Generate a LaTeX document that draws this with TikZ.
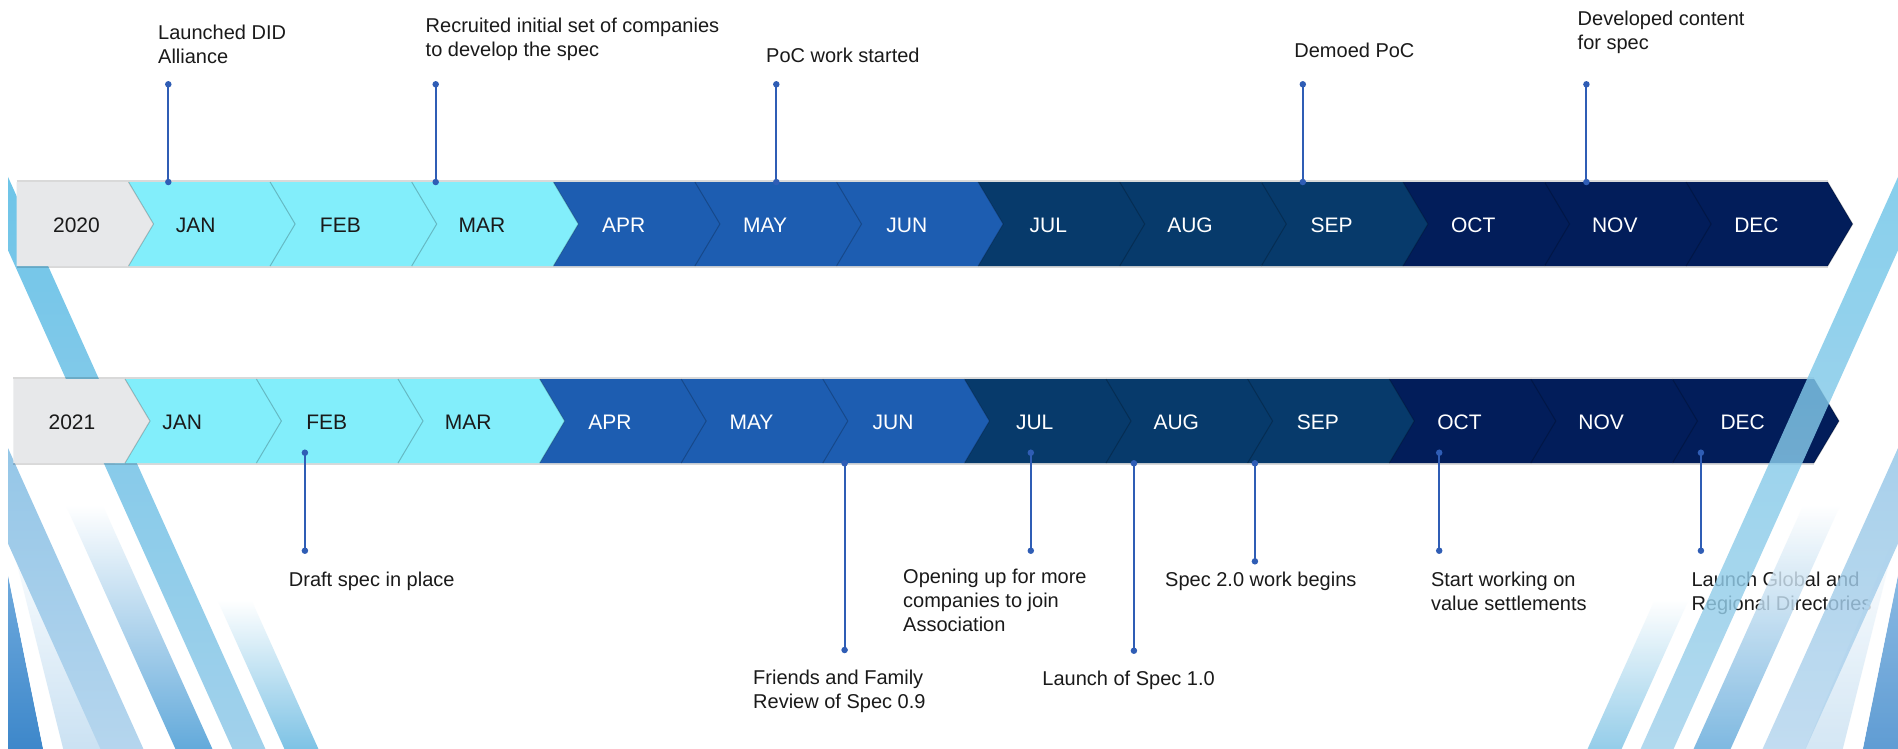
\documentclass[tikz,border=0pt]{standalone}
\usepackage{fontspec}
\setmainfont{Liberation Sans}
\usetikzlibrary{calc}
\definecolor{yearbg}{HTML}{E7E8EA}
\definecolor{qone}{HTML}{82EEFB}
\definecolor{qtwo}{HTML}{1D5DB1}
\definecolor{qthree}{HTML}{073A6B}
\definecolor{qfour}{HTML}{021D5A}
\definecolor{callout}{HTML}{2F5DB5}
\definecolor{txt}{HTML}{1A1A1A}
\definecolor{bandAa}{HTML}{6CC4E8}
\definecolor{bandAb}{HTML}{A2D1EB}
\definecolor{bandF}{HTML}{74BEE3}
\definecolor{bandM}{HTML}{5CA6D9}
\definecolor{bandLa}{HTML}{94C6E7}
\definecolor{bandLb}{HTML}{B6D6EE}
\definecolor{bandDa}{HTML}{6FAADD}
\definecolor{bandDb}{HTML}{3A85C9}
\definecolor{bandW}{HTML}{C8E0F2}
\newcommand\evlines[1]{\vtop{\halign{##\hfil\cr #1\cr}}}
% band: x-left and x-right at y=748, top y, style
\newcommand\decoband[4]{\path[#4] ({#1+5.4},-760) -- ({#2+5.4},-760) -- ({#2-0.45*(748-#3)},-#3) -- ({#1-0.45*(748-#3)},-#3) -- cycle;}
\newcommand\stripedeco{%
  \path[top color=bandDa, bottom color=bandDb] (-20,-575) -- (8,-575) -- (45.4,-760) -- (-20,-760) -- cycle;
  \path[fill=white] (8,-528) -- (8,-575) -- (45.4,-760) -- (66,-760) -- cycle;
  \path[top color=white, bottom color=bandW] (8,-528) -- (66,-760) -- (105.4,-760) -- cycle;
  \decoband{100}{143}{440}{top color=bandLa, bottom color=bandLb}
  \decoband{175}{212}{505}{top color=white, bottom color=bandM}
  \decoband{232}{265}{150}{top color=bandAa, bottom color=bandAb}
  \decoband{284}{318}{600}{top color=white, bottom color=bandF}
}
% chevron: left x, right x, top y, bottom y (image coords), colour
\newcommand\chevseg[5]{%
  \fill[#5] (#1,-#3) -- (#2,-#3) -- ({#2+25},{-(#3+#4)/2}) -- (#2,-#4) -- (#1,-#4) -- cycle;
  \draw[black, opacity=0.22, line width=1pt] (#2,-#3) -- ({#2+25},{-(#3+#4)/2}) -- (#2,-#4);}
\tikzset{
  monthlbl/.style={font=\fontsize{21}{25}\selectfont, anchor=base, inner sep=0pt},
  evtxt/.style={font=\fontsize{20}{24}\selectfont, anchor=base west, inner sep=0pt, text=txt},
  pin/.style={draw=callout, line width=2pt},
  pindot/.style={circle, fill=callout, inner sep=0pt, minimum size=6.5pt},
  barshadow/.style={draw=black, opacity=0.15, line width=1.5pt},
}
\begin{document}
\begin{tikzpicture}[x=1pt,y=1pt]
\useasboundingbox (0,0) rectangle (1898,-748);
\fill[white] (0,0) rectangle (1898,-748);
% left decoration (behind)
\begin{scope}
  \clip (8,-150) rectangle (1000,-760);
  \stripedeco
\end{scope}
% ---------- row 2020 ----------
\draw[barshadow] (16.5,-181) -- (1827.7,-181);
\draw[barshadow] (16.5,-267) -- (1827.7,-267);
\foreach \i/\c in {12/qfour,11/qfour,10/qfour,9/qthree,8/qthree,7/qthree,6/qtwo,5/qtwo,4/qtwo,3/qone,2/qone,1/qone}{
  \pgfmathsetmacro\L{128.5+(\i-1)*141.6}
  \pgfmathsetmacro\R{\L+141.6}
  \chevseg{\L}{\R}{182}{266}{\c}
}
\chevseg{16.5}{128.5}{182}{266}{yearbg}
\node[monthlbl, text=txt] (y2020) at (76.5,-232.5) {2020};
\foreach \i/\m/\t in {1/JAN/txt,2/FEB/txt,3/MAR/txt,4/APR/white,5/MAY/white,6/JUN/white,7/JUL/white,8/AUG/white,9/SEP/white,10/OCT/white,11/NOV/white,12/DEC/white}{
  \pgfmathsetmacro\X{128.5+(\i-1)*141.6+(\i==1 ? 67.3 : 70.3)}
  \node[monthlbl, text=\t] (a\i) at (\X,-232.5) {\m};
}
% ---------- row 2021 ----------
\draw[barshadow] (13.4,-378) -- (1814,-378);
\draw[barshadow] (13.4,-464) -- (1814,-464);
\foreach \i/\c in {12/qfour,11/qfour,10/qfour,9/qthree,8/qthree,7/qthree,6/qtwo,5/qtwo,4/qtwo,3/qone,2/qone,1/qone}{
  \pgfmathsetmacro\L{114.8+(\i-1)*141.6}
  \pgfmathsetmacro\R{\L+141.6}
  \chevseg{\L}{\R}{379}{463}{\c}
}
\chevseg{13.4}{125}{379}{463}{yearbg}
\node[monthlbl, text=txt] (y2021) at (72,-429.3) {2021};
\foreach \i/\m/\t in {1/JAN/txt,2/FEB/txt,3/MAR/txt,4/APR/white,5/MAY/white,6/JUN/white,7/JUL/white,8/AUG/white,9/SEP/white,10/OCT/white,11/NOV/white,12/DEC/white}{
  \pgfmathsetmacro\X{114.8+(\i-1)*141.6+(\i==1 ? 67.3 : 70.3)}
  \node[monthlbl, text=\t] (b\i) at (\X,-429.3) {\m};
}
% ---------- pins, top row ----------
\foreach \n/\x in {1/168.3,2/435.7,3/776.3,4/1302.8,5/1586.4}{
  \node[pindot] (ta\n) at (\x,-84.3) {};
  \node[pindot] (tb\n) at (\x,-182) {};
  \draw[pin] (ta\n.center) -- (tb\n.center);
}
% ---------- pins, bottom row ----------
\foreach \n/\x/\ya/\yb in {1/304.9/452.7/550.7,2/844.6/463.3/650,3/1030.8/452.7/550.7,4/1133.9/463.3/650.7,5/1254.9/463.3/561.3,6/1439.2/452.7/550.7,7/1700.9/452.7/550.7}{
  \node[pindot] (ba\n) at (\x,-\ya) {};
  \node[pindot] (bb\n) at (\x,-\yb) {};
  \draw[pin] (ba\n.center) -- (bb\n.center);
}
% ---------- event texts ----------
\node[evtxt] (e1) at (158,-39.4) {\evlines{Launched DID\cr Alliance}};
\node[evtxt] (e2) at (425.5,-32.8) {\evlines{Recruited initial set of companies\cr to develop the spec}};
\node[evtxt] (e3) at (766,-62.3) {PoC work started};
\node[evtxt] (e4) at (1294.2,-57.3) {Demoed PoC};
\node[evtxt] (e5) at (1577.5,-25.6) {\evlines{Developed content\cr for spec}};
\node[evtxt] (e6) at (288.7,-586.3) {Draft spec in place};
\node[evtxt] (e7) at (753,-684.3) {\evlines{Friends and Family\cr Review of Spec 0.9}};
\node[evtxt] (e8) at (903,-583.3) {\evlines{Opening up for more\cr companies to join\cr Association}};
\node[evtxt] (e9) at (1042.2,-685.3) {Launch of Spec 1.0};
\node[evtxt] (e10) at (1165,-586.3) {Spec 2.0 work begins};
\node[evtxt] (e11) at (1430.8,-586.7) {\evlines{Start working on\cr value settlements}};
\node[evtxt] (e12) at (1691.3,-586.7) {\evlines{Launch Global and\cr Regional Directories}};
% right decoration (mirrored, on top)
\begin{scope}[xshift=1906pt, xscale=-1, opacity=0.82]
  \clip (8,-150) rectangle (1000,-760);
  \stripedeco
\end{scope}
\end{tikzpicture}
\end{document}
